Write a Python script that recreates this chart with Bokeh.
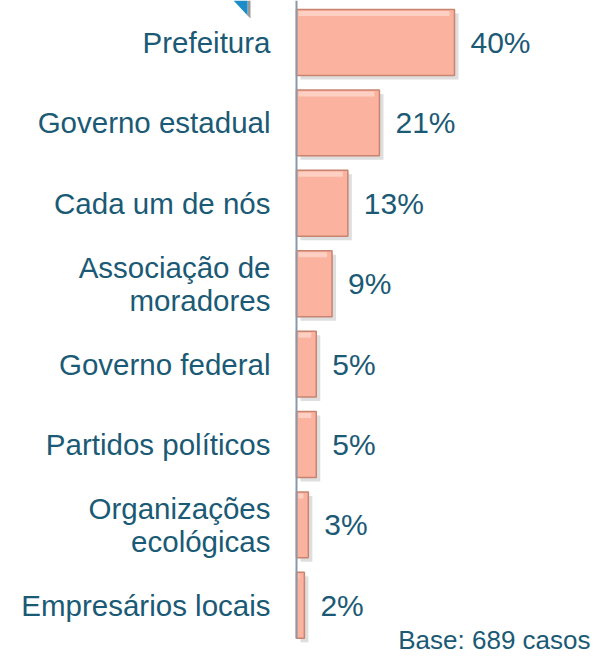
from bokeh.plotting import figure
from bokeh.models import Range1d, ColumnDataSource
from bokeh.core.properties import value
from bokeh.embed import file_html
from bokeh.resources import INLINE

categories = ["Prefeitura", "Governo estadual", "Cada um de nós", "Associação de\nmoradores",
              "Governo federal", "Partidos políticos", "Organizações\necológicas", "Empresários locais"]
values = [40, 21, 13, 9, 5, 5, 3, 2]
value_labels = ["40%", "21%", "13%", "9%", "5%", "5%", "3%", "2%"]
base_note = "Base: 689 casos"

PX = 3.95          # pixels per percent unit
ROW = 80.4         # pixels per category row
W, H = 591, 655
AX = 296           # axis position in pixels from left
Y0 = 42            # first row center in pixels from top

ys = list(range(len(categories)))
src = ColumnDataSource(dict(
    y=ys, v=values, cat=categories, lab=value_labels,
    vx=[v + 16 / PX for v in values],
    sy=[y + 4 / ROW for y in ys],
    sl=[4 / PX] * len(values),
    sr=[v + 4 / PX for v in values],
    hy=[y - 0.41 + 4 / ROW for y in ys],
    hr=[max(v - 5 / PX, 0.3) for v in values],
))

x0 = -AX / PX
y_top = -Y0 / ROW
p = figure(width=W, height=H, output_backend="svg", toolbar_location=None,
           x_range=Range1d(x0, x0 + W / PX), y_range=Range1d(y_top + H / ROW, y_top),
           min_border=0, outline_line_color=None, background_fill_color="white")
p.axis.visible = False
p.grid.visible = False

TXT = "#1B5A75"
FONT = value("Liberation Sans")

def px_x(px):
    return (px - AX) / PX

def px_y(py):
    return (py - Y0) / ROW

# shadows
p.hbar(y="sy", left="sl", right="sr", height=0.82, source=src,
       fill_color="#7a7a7a", fill_alpha=0.25, line_color=None)
# bars
p.hbar(y="y", left=0, right="v", height=0.82, source=src,
       fill_color="#FBB29E", line_color="#C98470", line_width=1.5)
# top bevel highlight
p.hbar(y="hy", left=0.5, right="hr", height=5 / ROW, source=src,
       fill_color="#FDD3C6", line_color=None, fill_alpha=0.9)

# vertical axis line
p.segment(x0=[0], y0=[px_y(0)], x1=[0], y1=[px_y(638)],
          line_color="#8C98A8", line_width=2)

# category labels
p.text(x=-26 / PX, y="y", text="cat", source=src, text_align="right",
       text_baseline="middle", text_font=FONT, text_font_size="29.5px",
       text_color=TXT, text_line_height=1.0)
# value labels
p.text(x="vx", y="y", text="lab", source=src, text_align="left",
       text_baseline="middle", text_font=FONT, text_font_size="30px",
       text_color=TXT)
# base note
p.text(x=[px_x(590)], y=[px_y(654)], text=[base_note],
       text_align="right", text_baseline="bottom", text_font=FONT,
       text_font_size="26px", text_color=TXT)

# small decorative corner triangle at top
p.patch(x=[px_x(247), px_x(250), px_x(250), px_x(247)],
        y=[px_y(0), px_y(0), px_y(18), px_y(15)],
        fill_color="#9A9A9A", line_color=None)
p.patch(x=[px_x(233), px_x(247), px_x(247)],
        y=[px_y(0), px_y(0), px_y(15)],
        fill_color="#1C8CC8", line_color=None)

open("out.html", "w").write(file_html(p, INLINE))
